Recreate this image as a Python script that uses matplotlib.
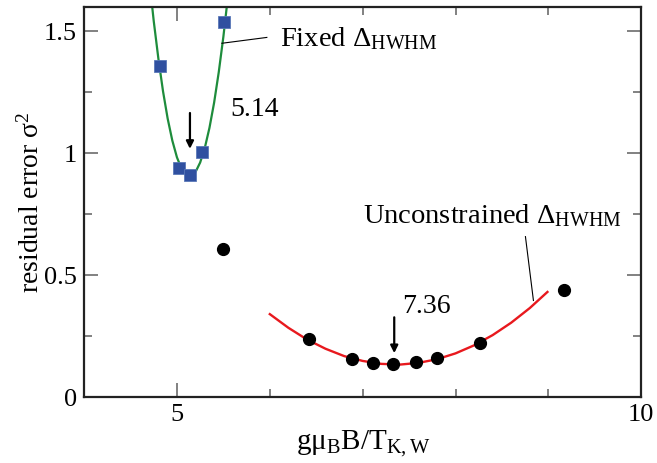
import numpy as np
import matplotlib
matplotlib.use("Agg")
import matplotlib.pyplot as plt
from matplotlib.ticker import MultipleLocator

plt.rcParams['font.family'] = ['Liberation Serif', 'DejaVu Serif']
plt.rcParams['mathtext.fontset'] = 'custom'
plt.rcParams['mathtext.rm'] = 'Liberation Serif'
plt.rcParams['mathtext.it'] = 'Liberation Serif:italic'
plt.rcParams['mathtext.bf'] = 'Liberation Serif:bold'

# fixed Delta_HWHM: data (blue squares) and fit curve (green)
fixed_x = [4.82, 5.02, 5.14, 5.27, 5.505]
fixed_y = [1.357, 0.94, 0.911, 1.005, 1.537]
fixed_fit_x = [4.70, 4.75, 4.80, 4.85, 4.90, 4.95, 5.00, 5.05, 5.10, 5.135,
               5.15, 5.20, 5.25, 5.30, 5.35, 5.40, 5.45, 5.50, 5.55]
fixed_fit_y = [1.719, 1.542, 1.388, 1.254, 1.142, 1.052, 0.983, 0.936, 0.910, 0.905,
               0.906, 0.923, 0.962, 1.022, 1.104, 1.207, 1.332, 1.478, 1.646]

# unconstrained Delta_HWHM: data (black dots) and fit curve (red)
free_x = [5.495, 6.42, 6.88, 7.11, 7.33, 7.57, 7.80, 8.26, 9.17]
free_y = [0.609, 0.236, 0.154, 0.138, 0.134, 0.143, 0.161, 0.222, 0.441]
free_fit_x = [6.0, 6.2, 6.4, 6.6, 6.8, 7.0, 7.2, 7.4, 7.6, 7.8,
              8.0, 8.2, 8.4, 8.6, 8.8, 8.99]
free_fit_y = [0.340, 0.284, 0.236, 0.198, 0.168, 0.148, 0.136, 0.133, 0.140, 0.155,
              0.179, 0.212, 0.254, 0.305, 0.365, 0.431]

min_fixed = 5.14
min_free = 7.36

fig = plt.figure(figsize=(6.57, 4.63), dpi=100)
ax = fig.add_axes([0.128, 0.1425, 0.848, 0.8425])

ax.plot(fixed_fit_x, fixed_fit_y, color='#1e8c3c', lw=1.6, zorder=2)
ax.plot(fixed_x, fixed_y, 's', color='#3050a0', mec='#5a78b8', mew=0.6, ms=8.5, zorder=3)
ax.plot(free_fit_x, free_fit_y, color='#e8191e', lw=1.7, zorder=2)
ax.plot(free_x, free_y, 'o', color='black', ms=8.5, zorder=3)

# labels and leader lines
ax.text(6.11, 1.438, r'Fixed $\Delta_{\mathrm{HWHM}}$', fontsize=20.5, va='baseline')
ax.plot([5.484, 5.968], [1.451, 1.475], color='black', lw=0.8)
ax.text(7.0, 0.715, r'Unconstrained $\Delta_{\mathrm{HWHM}}$', fontsize=20.5, va='baseline')
ax.plot([8.753, 8.839], [0.658, 0.396], color='black', lw=0.8)

ax.text(5.57, 1.152, '%.2f' % min_fixed, fontsize=20, va='baseline')
ax.annotate('', xy=(min_fixed, 1.018), xytext=(min_fixed, 1.165),
            arrowprops=dict(arrowstyle='-|>', color='black', lw=1.6, mutation_scale=11,
                            shrinkA=0, shrinkB=0))
ax.text(7.43, 0.343, '%.2f' % min_free, fontsize=20, va='baseline')
ax.annotate('', xy=(7.34, 0.18), xytext=(7.34, 0.327),
            arrowprops=dict(arrowstyle='-|>', color='black', lw=1.6, mutation_scale=11,
                            shrinkA=0, shrinkB=0))

ax.set_xlim(4, 10)
ax.set_ylim(0, 1.6)
ax.xaxis.set_minor_locator(MultipleLocator(1))
ax.yaxis.set_minor_locator(MultipleLocator(0.25))
ax.set_xticks([5, 10])
ax.set_xticklabels(['5', '10'])
ax.set_yticks([0, 0.5, 1, 1.5])
ax.set_yticklabels(['0', '0.5', '1', '1.5'])

ax.tick_params(which='both', direction='in', top=True, right=True,
               color='#777777', labelsize=19, pad=5)
ax.tick_params(which='major', length=10, width=1.3)
ax.tick_params(which='minor', length=6, width=1.3)
for s in ax.spines.values():
    s.set_linewidth(1.6)
    s.set_color('#222222')

ax.set_xlabel(r'g$\mathrm{\mu}_{\mathrm{B}}$B/T$_{\mathrm{K,W}}$', fontsize=21, labelpad=2)
ax.set_ylabel(r'residual error $\mathrm{\sigma}^{2}$', fontsize=20, labelpad=0)

fig.savefig('out.png', dpi=100)
